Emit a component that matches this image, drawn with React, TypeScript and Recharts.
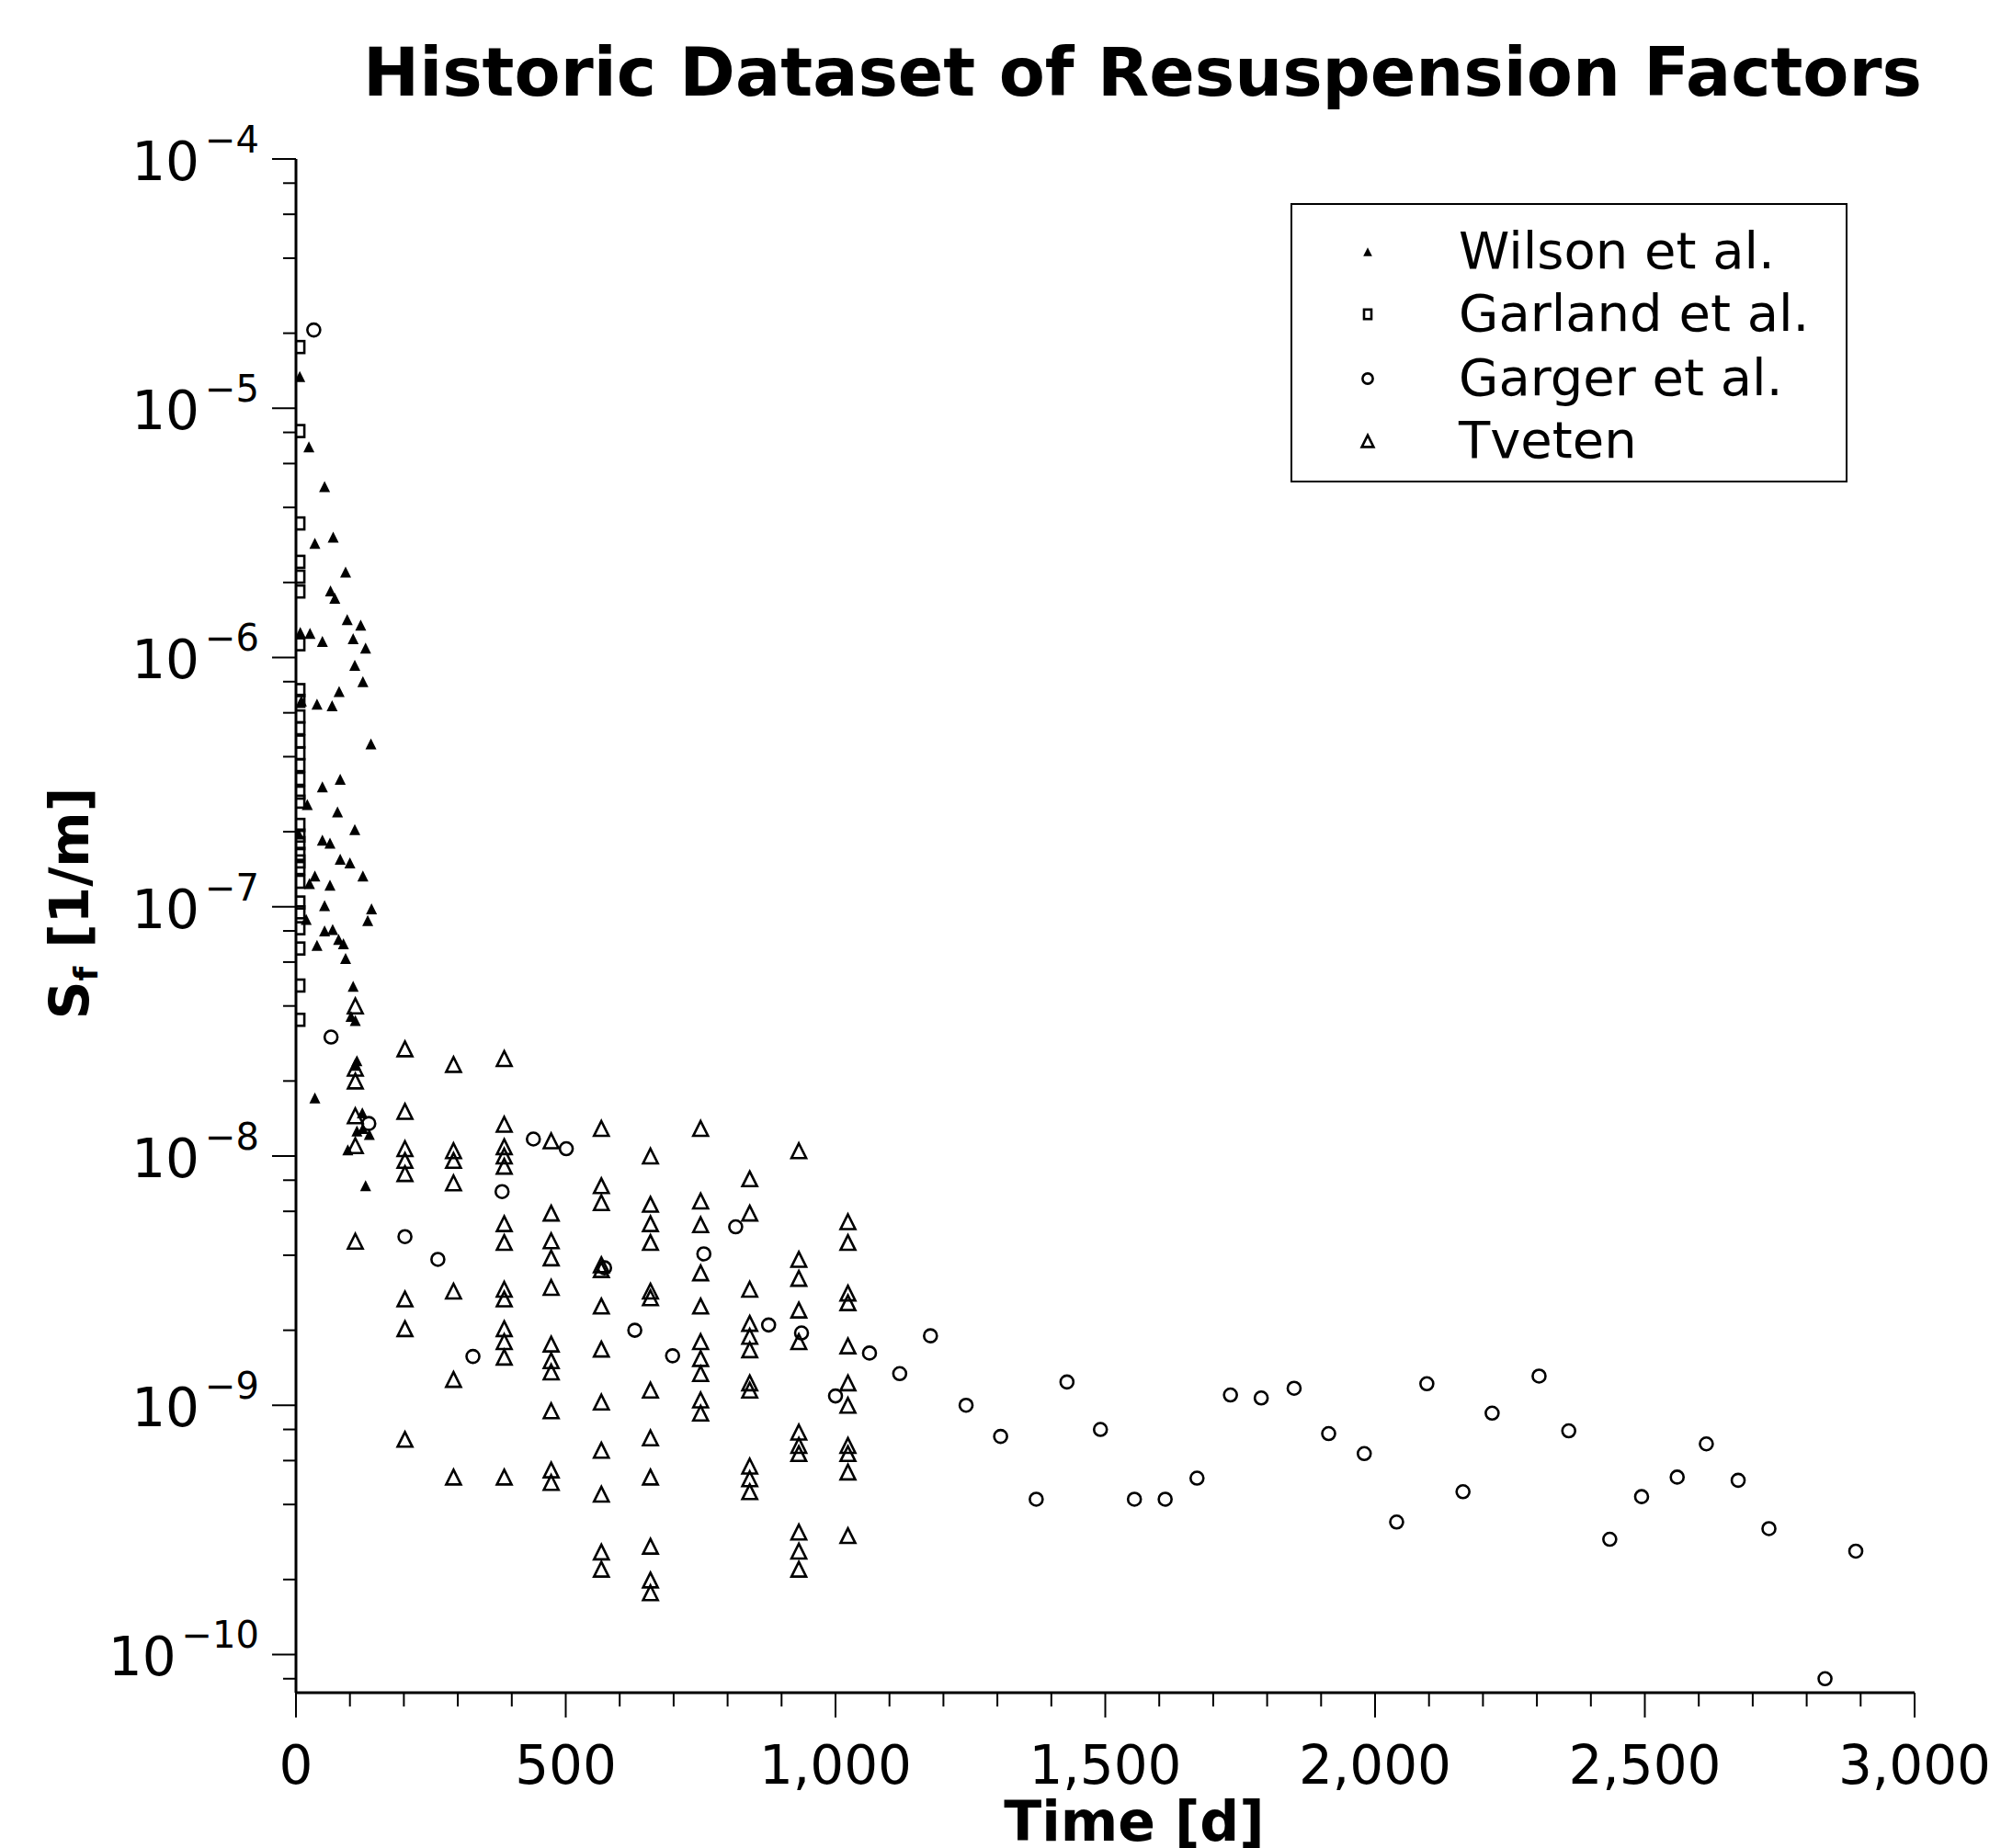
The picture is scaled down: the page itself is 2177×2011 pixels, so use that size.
import { Legend, Scatter, ScatterChart, XAxis, YAxis } from "recharts";

const FONT = "'DejaVu Sans', sans-serif";

// Values — [time in days, Sf in 1/m]
const wilson: [number, number][] = [
  [7, 1.34e-5], [24, 7.0e-6], [53, 4.85e-6], [35, 2.87e-6], [69, 3.04e-6],
  [92, 2.2e-6], [64, 1.85e-6], [72, 1.73e-6], [95, 1.42e-6], [120, 1.35e-6],
  [8, 1.26e-6], [26, 1.25e-6], [49, 1.16e-6], [106, 1.19e-6], [129, 1.09e-6],
  [109, 9.3e-7], [124, 8.0e-7], [80, 7.3e-7], [39, 6.5e-7], [67, 6.4e-7],
  [10, 6.7e-7], [139, 4.5e-7], [82, 3.25e-7], [49, 3.03e-7], [21, 2.57e-7],
  [77, 2.4e-7], [109, 2.04e-7], [5, 1.96e-7], [49, 1.85e-7], [63, 1.8e-7],
  [82, 1.55e-7], [100, 1.5e-7], [124, 1.33e-7], [35, 1.33e-7], [25, 1.24e-7],
  [63, 1.22e-7], [53, 1.01e-7], [140, 9.8e-8], [133, 8.8e-8], [19, 8.9e-8],
  [53, 8.0e-8], [68, 8.1e-8], [79, 7.4e-8], [88, 7.1e-8], [39, 7.0e-8],
  [92, 6.2e-8], [106, 4.8e-8], [102, 3.63e-8], [110, 3.5e-8], [113, 2.41e-8],
  [111, 2.31e-8], [35, 1.71e-8], [123, 1.49e-8], [136, 1.22e-8], [124, 1.29e-8],
  [113, 1.26e-8], [96, 1.06e-8], [129, 7.6e-9],
];

const garlandDay = 7;
const garlandValues = [
  1.76e-5, 8.1e-6, 3.45e-6, 2.42e-6, 2.11e-6, 1.84e-6, 1.13e-6, 7.4e-7, 6.7e-7,
  5.8e-7, 5.2e-7, 4.6e-7, 4.13e-7, 3.7e-7, 3.26e-7, 2.87e-7, 2.64e-7, 2.13e-7,
  1.93e-7, 1.8e-7, 1.63e-7, 1.52e-7, 1.43e-7, 1.26e-7, 1.04e-7, 9.5e-8, 8.2e-8,
  6.8e-8, 4.83e-8, 3.52e-8,
];

const garger: [number, number][] = [
  [33, 2.06e-5], [65, 3.0e-8], [135, 1.35e-8], [202, 4.75e-9], [263, 3.85e-9],
  [328, 1.57e-9], [382, 7.2e-9], [440, 1.17e-8], [501, 1.07e-8], [572, 3.56e-9],
  [628, 2.0e-9], [698, 1.58e-9], [756, 4.05e-9], [815, 5.2e-9], [876, 2.1e-9],
  [937, 1.95e-9], [1000, 1.09e-9], [1063, 1.62e-9], [1119, 1.34e-9], [1176, 1.9e-9],
  [1242, 1.0e-9], [1306, 7.5e-10], [1372, 4.2e-10], [1429, 1.24e-9], [1491, 8.0e-10],
  [1554, 4.2e-10], [1611, 4.2e-10], [1670, 5.1e-10], [1732, 1.1e-9], [1789, 1.07e-9],
  [1850, 1.17e-9], [1914, 7.7e-10], [1980, 6.4e-10], [2040, 3.4e-10], [2096, 1.22e-9],
  [2163, 4.5e-10], [2217, 9.3e-10], [2304, 1.31e-9], [2359, 7.9e-10], [2435, 2.9e-10],
  [2494, 4.3e-10], [2560, 5.15e-10], [2614, 7.0e-10], [2673, 5.0e-10], [2730, 3.2e-10],
  [2834, 8.0e-11], [2891, 2.6e-10],
];

// Tveten sampled at fixed times, several values per time
const tvetenDays = [110, 202, 292, 386, 473, 566, 657, 750, 841, 932, 1023];
const tvetenValues = [
  [4.0e-8, 2.25e-8, 2.0e-8, 1.45e-8, 1.1e-8, 4.55e-9],
  [2.69e-8, 1.51e-8, 1.07e-8, 9.6e-9, 8.5e-9, 2.67e-9, 2.03e-9, 7.3e-10],
  [2.33e-8, 1.05e-8, 9.6e-9, 7.8e-9, 2.87e-9, 1.27e-9, 5.15e-10],
  [2.46e-8, 1.34e-8, 1.09e-8, 1.0e-8, 9.1e-9, 5.35e-9, 4.5e-9, 2.92e-9, 2.67e-9, 2.03e-9, 1.8e-9, 1.56e-9, 5.15e-10],
  [1.15e-8, 5.9e-9, 4.57e-9, 3.9e-9, 2.97e-9, 1.76e-9, 1.51e-9, 1.36e-9, 9.5e-10, 5.5e-10, 4.9e-10],
  [1.29e-8, 7.6e-9, 6.5e-9, 3.66e-9, 3.5e-9, 2.5e-9, 1.68e-9, 1.03e-9, 6.6e-10, 4.4e-10, 2.58e-10, 2.2e-10],
  [1.0e-8, 6.4e-9, 5.35e-9, 4.5e-9, 2.87e-9, 2.7e-9, 1.15e-9, 7.4e-10, 5.15e-10, 2.72e-10, 1.99e-10, 1.77e-10],
  [1.29e-8, 6.6e-9, 5.3e-9, 3.4e-9, 2.5e-9, 1.8e-9, 1.54e-9, 1.34e-9, 1.05e-9, 9.3e-10],
  [8.1e-9, 5.9e-9, 2.92e-9, 2.13e-9, 1.89e-9, 1.67e-9, 1.23e-9, 1.15e-9, 5.7e-10, 5.07e-10, 4.5e-10],
  [1.05e-8, 3.85e-9, 3.23e-9, 2.41e-9, 1.8e-9, 7.8e-10, 6.9e-10, 6.4e-10, 3.1e-10, 2.6e-10, 2.2e-10],
  [5.45e-9, 4.5e-9, 2.82e-9, 2.58e-9, 1.73e-9, 1.23e-9, 1.0e-9, 6.9e-10, 6.4e-10, 5.4e-10, 3.0e-10],
];

const seriesNames = ["Wilson et al.", "Garland et al.", "Garger et al.", "Tveten"];

const xTicks = Array.from({ length: 31 }, (_, i) => i * 100);
const yTicks = [
  8e-11, 1e-10, 2e-10, 4e-10, 6e-10, 8e-10, 1e-9, 2e-9, 4e-9, 6e-9, 8e-9,
  1e-8, 2e-8, 4e-8, 6e-8, 8e-8, 1e-7, 2e-7, 4e-7, 6e-7, 8e-7, 1e-6, 2e-6,
  4e-6, 6e-6, 8e-6, 1e-5, 2e-5, 4e-5, 6e-5, 8e-5, 1e-4,
];

const toPts = (arr: [number, number][]) => arr.map(([x, y]) => ({ x, y }));
const wilsonPts = toPts(wilson);
const garlandPts = garlandValues.map((y) => ({ x: garlandDay, y }));
const gargerPts = toPts(garger);
const tvetenPts = tvetenDays.flatMap((d, i) => tvetenValues[i].map((y) => ({ x: d, y })));

type Kind = "wilson" | "garland" | "garger" | "tveten";

function Mark({ kind, cx, cy, s = 1 }: { kind: Kind; cx: number; cy: number; s?: number }) {
  const sw = 2.6;
  if (kind === "wilson") {
    const w = 6 * s, h = 6 * s;
    return <polygon points={`${cx},${cy - h} ${cx + w},${cy + h} ${cx - w},${cy + h}`} fill="#000" />;
  }
  if (kind === "garland") {
    const w = 5 * s, h = 6.5 * s;
    return <rect x={cx - w} y={cy - h} width={2 * w} height={2 * h} fill="none" stroke="#000" strokeWidth={sw} />;
  }
  if (kind === "garger") {
    return <circle cx={cx} cy={cy} r={7 * s} fill="none" stroke="#000" strokeWidth={sw} />;
  }
  const w = 8 * s, h = 8 * s;
  return (
    <polygon
      points={`${cx},${cy - h} ${cx + w},${cy + h} ${cx - w},${cy + h}`}
      fill="none"
      stroke="#000"
      strokeWidth={sw}
      strokeLinejoin="miter"
    />
  );
}

function XTick({ x, y, payload }: any) {
  const v = payload.value as number;
  const major = v % 500 === 0;
  return (
    <g>
      <line x1={x} x2={x} y1={y} y2={y + (major ? 27 : 15)} stroke="#000" strokeWidth={2} />
      {major && (
        <text x={x} y={y + 99} textAnchor="middle" fontSize={58} fontFamily={FONT} fill="#000">
          {v.toLocaleString("en-US")}
        </text>
      )}
    </g>
  );
}

function YTick({ x, y, payload }: any) {
  const v = payload.value as number;
  const lg = Math.log10(v);
  const exp = Math.round(lg);
  const major = Math.abs(lg - exp) < 1e-6;
  return (
    <g>
      <line x1={x - (major ? 26 : 14)} x2={x} y1={y} y2={y} stroke="#000" strokeWidth={2} />
      {major && (
        <text x={x - 40} y={y + 23} textAnchor="end" fontSize={58} fontFamily={FONT} fill="#000">
          10
          <tspan dx={6} dy={-30} fontSize={40}>
            {"\u2212" + Math.abs(exp)}
          </tspan>
        </text>
      )}
    </g>
  );
}

const kinds: Kind[] = ["wilson", "garland", "garger", "tveten"];
const rowCenters = [51, 119, 189, 257];

function LegendBox() {
  return (
    <div
      style={{
        position: "relative",
        width: 606,
        height: 304,
        border: "2.5px solid #000",
        boxSizing: "border-box",
        background: "#fff",
        fontFamily: FONT,
      }}
    >
      {seriesNames.map((name, i) => (
        <div key={name}>
          <svg style={{ position: "absolute", left: 62, top: rowCenters[i] - 20 }} width={40} height={40}>
            <Mark kind={kinds[i]} cx={20} cy={20} s={0.8} />
          </svg>
          <div
            style={{
              position: "absolute",
              left: 181,
              top: rowCenters[i] - 36,
              height: 70,
              lineHeight: "70px",
              fontSize: 56,
              color: "#000",
              whiteSpace: "nowrap",
            }}
          >
            {name}
          </div>
        </div>
      ))}
    </div>
  );
}

export default function App() {
  return (
    <div style={{ position: "relative", width: 2177, height: 2011, background: "#fff" }}>
      <style>{`body{margin:0;background:#fff}`}</style>
      <ScatterChart width={2177} height={2011} margin={{ top: 173, right: 94, bottom: 0, left: 0 }}>
        <XAxis
          type="number"
          dataKey="x"
          domain={[0, 3000]}
          ticks={xTicks}
          interval={0}
          tick={<XTick />}
          tickLine={false}
          tickSize={0}
          tickMargin={0}
          height={169}
          axisLine={{ stroke: "#000", strokeWidth: 3 }}
          allowDataOverflow
        />
        <YAxis
          type="number"
          dataKey="y"
          scale="log"
          domain={[7.03e-11, 1e-4]}
          ticks={yTicks}
          interval={0}
          tick={<YTick />}
          tickLine={false}
          tickSize={0}
          tickMargin={0}
          width={322}
          axisLine={{ stroke: "#000", strokeWidth: 3 }}
          allowDataOverflow
        />
        <Legend
          layout="horizontal"
          verticalAlign="middle"
          align="center"
          wrapperStyle={{ left: 1404, top: 221, width: 606, height: 304 }}
          content={() => <LegendBox />}
        />
        <Scatter
          name={seriesNames[3]}
          data={tvetenPts}
          isAnimationActive={false}
          shape={(p: any) => <Mark kind="tveten" cx={p.cx} cy={p.cy} />}
        />
        <Scatter
          name={seriesNames[2]}
          data={gargerPts}
          isAnimationActive={false}
          shape={(p: any) => <Mark kind="garger" cx={p.cx} cy={p.cy} />}
        />
        <Scatter
          name={seriesNames[1]}
          data={garlandPts}
          isAnimationActive={false}
          shape={(p: any) => <Mark kind="garland" cx={p.cx} cy={p.cy} />}
        />
        <Scatter
          name={seriesNames[0]}
          data={wilsonPts}
          isAnimationActive={false}
          shape={(p: any) => <Mark kind="wilson" cx={p.cx} cy={p.cy} />}
        />
      </ScatterChart>
      <svg
        width={2177}
        height={2011}
        style={{ position: "absolute", left: 0, top: 0, pointerEvents: "none" }}
      >
        <text x={1243} y={104} textAnchor="middle" fontSize={73} fontWeight="bold" fontFamily={FONT}>
          Historic Dataset of Resuspension Factors
        </text>
        <text x={1234} y={2003} textAnchor="middle" fontSize={60} fontWeight="bold" fontFamily={FONT}>
          Time [d]
        </text>
        <text
          x={96}
          y={983}
          transform="rotate(-90, 96, 983)"
          textAnchor="middle"
          fontSize={58}
          fontWeight="bold"
          fontFamily={FONT}
        >
          S
          <tspan fontSize={36} dy={10}>f</tspan>
          <tspan dy={-10}> [1/m]</tspan>
        </text>
      </svg>
    </div>
  );
}
